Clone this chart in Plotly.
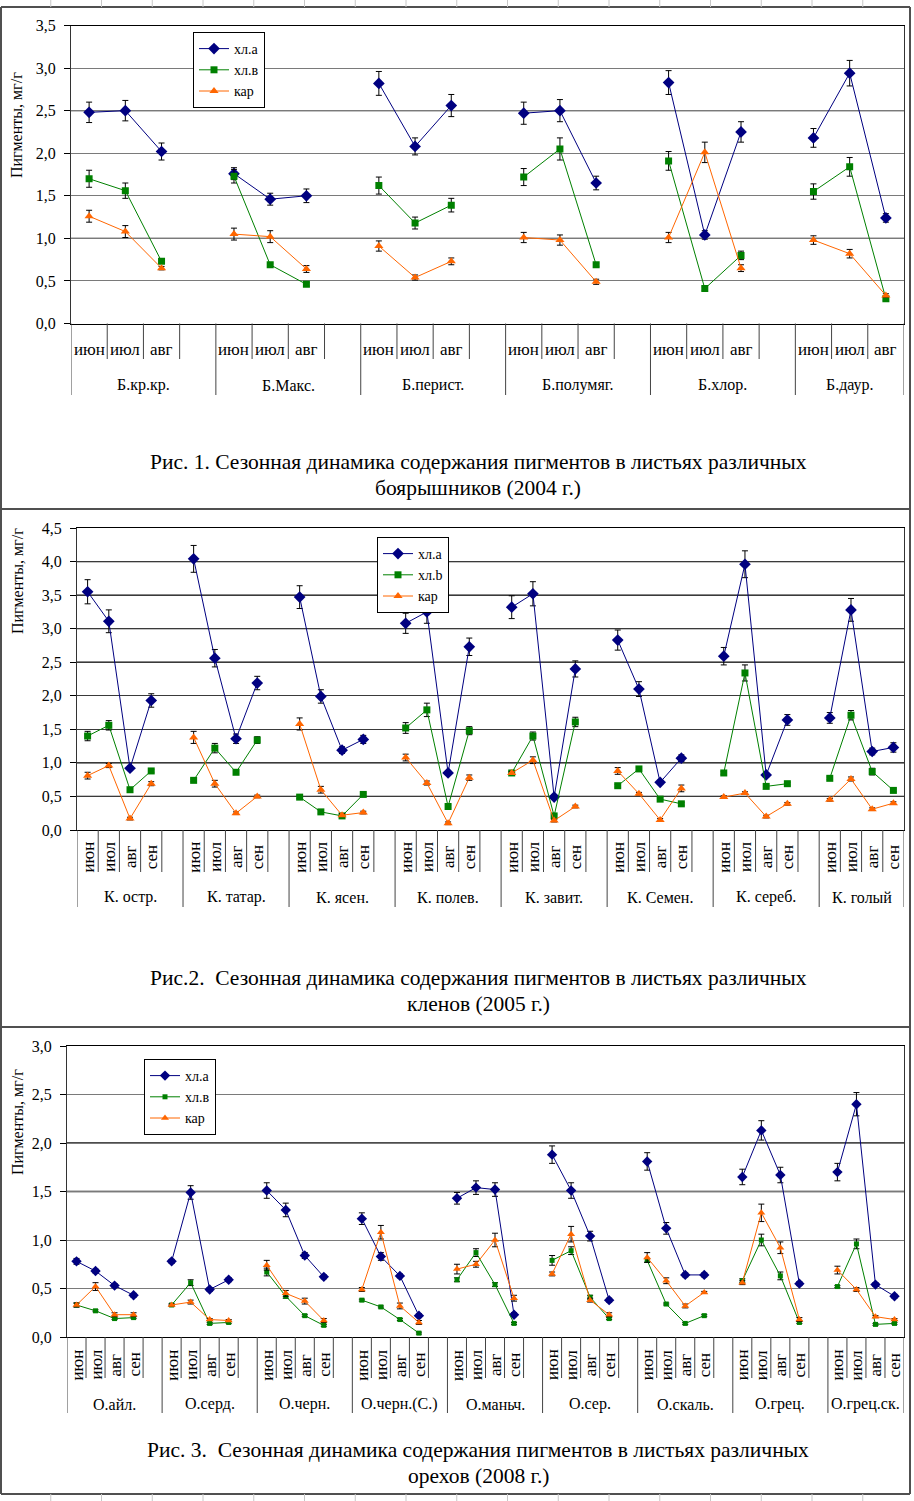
import plotly.graph_objects as go

W, H = 914, 1501
SERIF = "Liberation Serif, Times New Roman, serif"

# ---------------- data ----------------
COLORS = ["#000080", "#008000", "#FF6600"]
SYMBOLS = ["diamond", "square", "triangle-up"]

# Panel 1 — боярышники (2004)
P1_GROUPS = ["Б.кр.кр.", "Б.Макс.", "Б.перист.", "Б.полумяг.", "Б.хлор.", "Б.даур."]
P1_MONTHS = ["июн", "июл", "авг"]
P1_NAMES = ["хл.а", "хл.в", "кар"]
P1_XLA = [[2.48, 2.50, 2.02], [1.76, 1.46, 1.50], [2.82, 2.08, 2.56],
          [2.47, 2.50, 1.65], [2.83, 1.04, 2.25], [2.18, 2.94, 1.24]]
P1_XLA_ERR = [[0.12, 0.12, 0.10], [0.07, 0.07, 0.08], [0.14, 0.10, 0.13],
              [0.13, 0.13, 0.08], [0.14, 0.05, 0.12], [0.11, 0.15, 0.05]]
P1_XLB = [[1.70, 1.56, 0.73], [1.73, 0.69, 0.46], [1.62, 1.18, 1.39],
          [1.72, 2.05, 0.69], [1.91, 0.41, 0.80], [1.55, 1.84, 0.29]]
P1_XLB_ERR = [[0.10, 0.09, 0.02], [0.08, 0.02, 0.02], [0.10, 0.07, 0.08],
              [0.10, 0.13, 0.02], [0.11, 0.02, 0.05], [0.09, 0.11, 0.02]]
P1_CAR = [[1.26, 1.08, 0.65], [1.05, 1.02, 0.64], [0.91, 0.54, 0.73],
          [1.01, 0.98, 0.49], [1.01, 2.01, 0.65], [0.98, 0.82, 0.33]]
P1_CAR_ERR = [[0.07, 0.07, 0.02], [0.07, 0.07, 0.04], [0.06, 0.03, 0.04],
              [0.06, 0.06, 0.03], [0.06, 0.12, 0.04], [0.05, 0.05, 0.02]]

# Panel 2 — клёны (2005)
P2_GROUPS = ["К. остр.", "К. татар.", "К. ясен.", "К. полев.", "К. завит.", "К. Семен.", "К. сереб.", "К. голый"]
P2_MONTHS = ["июн", "июл", "авг", "сен"]
P2_NAMES = ["хл.а", "хл.b", "кар"]
P2_XLA = [[3.55, 3.11, 0.92, 1.93], [4.04, 2.56, 1.36, 2.19], [3.47, 1.99, 1.19, 1.35], [3.08, 3.25, 0.85, 2.73],
          [3.32, 3.52, 0.49, 2.40], [2.83, 2.10, 0.71, 1.07], [2.59, 3.96, 0.82, 1.64], [1.67, 3.28, 1.17, 1.23]]
P2_XLA_ERR = [[0.18, 0.17, 0.03, 0.10], [0.20, 0.13, 0.07, 0.10], [0.17, 0.10, 0.05, 0.06], [0.15, 0.17, 0.03, 0.13],
              [0.17, 0.18, 0.03, 0.12], [0.15, 0.11, 0.03, 0.05], [0.13, 0.20, 0.03, 0.08], [0.08, 0.17, 0.05, 0.07]]
P2_XLB = [[1.40, 1.56, 0.60, 0.88], [0.74, 1.22, 0.86, 1.34], [0.49, 0.27, 0.21, 0.53], [1.52, 1.79, 0.35, 1.48],
          [0.85, 1.40, 0.21, 1.61], [0.66, 0.91, 0.46, 0.39], [0.85, 2.34, 0.65, 0.69], [0.77, 1.71, 0.87, 0.59]]
P2_XLB_ERR = [[0.07, 0.07, 0.02, 0.02], [0.02, 0.07, 0.02, 0.05], [0.02, 0.02, 0.02, 0.02], [0.08, 0.10, 0.02, 0.06],
              [0.02, 0.06, 0.02, 0.07], [0.02, 0.02, 0.02, 0.02], [0.02, 0.12, 0.02, 0.02], [0.02, 0.07, 0.05, 0.02]]
P2_CAR = [[0.81, 0.96, 0.17, 0.69], [1.38, 0.69, 0.25, 0.50], [1.58, 0.60, 0.22, 0.26], [1.08, 0.70, 0.10, 0.78],
          [0.85, 1.04, 0.14, 0.35], [0.88, 0.54, 0.15, 0.62], [0.49, 0.55, 0.20, 0.39], [0.45, 0.76, 0.31, 0.40]]
P2_CAR_ERR = [[0.05, 0.03, 0.02, 0.03], [0.09, 0.05, 0.02, 0.02], [0.09, 0.05, 0.02, 0.02], [0.05, 0.03, 0.02, 0.04],
              [0.02, 0.05, 0.02, 0.02], [0.05, 0.02, 0.02, 0.05], [0.02, 0.02, 0.02, 0.02], [0.02, 0.03, 0.02, 0.02]]

# Panel 3 — орехи (2008)
P3_GROUPS = ["О.айл.", "О.серд.", "О.черн.", "О.черн.(С.)", "О.маньч.", "О.сер.", "О.скаль.", "О.грец.", "О.грец.ск."]
P3_MONTHS = ["июн", "июл", "авг", "сен"]
P3_NAMES = ["хл.а", "хл.в", "кар"]
P3_XLA = [[0.78, 0.68, 0.53, 0.43], [0.78, 1.49, 0.49, 0.59], [1.51, 1.31, 0.84, 0.62], [1.22, 0.83, 0.63, 0.22],
          [1.43, 1.54, 1.52, 0.23], [1.88, 1.51, 1.04, 0.38], [1.81, 1.12, 0.64, 0.64], [1.65, 2.13, 1.67, 0.55],
          [1.70, 2.40, 0.54, 0.42]]
P3_XLA_ERR = [[0.03, 0.02, 0.02, 0.02], [0.02, 0.07, 0.02, 0.02], [0.08, 0.07, 0.03, 0.02], [0.06, 0.04, 0.02, 0.02],
              [0.06, 0.07, 0.07, 0.02], [0.09, 0.08, 0.05, 0.02], [0.09, 0.06, 0.02, 0.02], [0.08, 0.10, 0.08, 0.02],
              [0.09, 0.12, 0.02, 0.02]]
P3_XLB = [[0.33, 0.27, 0.19, 0.20], [0.33, 0.56, 0.14, 0.15], [0.67, 0.42, 0.22, 0.12], [0.38, 0.31, 0.18, 0.04],
          [0.59, 0.87, 0.54, 0.14], [0.79, 0.89, 0.41, 0.19], [0.79, 0.34, 0.14, 0.22], [0.58, 1.00, 0.63, 0.15],
          [0.52, 0.96, 0.13, 0.14]]
P3_XLB_ERR = [[0.02, 0.01, 0.01, 0.01], [0.01, 0.03, 0.01, 0.01], [0.04, 0.02, 0.01, 0.01], [0.01, 0.01, 0.01, 0.01],
              [0.02, 0.04, 0.02, 0.01], [0.05, 0.04, 0.02, 0.01], [0.02, 0.01, 0.01, 0.01], [0.02, 0.06, 0.04, 0.01],
              [0.01, 0.05, 0.01, 0.01]]
P3_CAR = [[0.33, 0.52, 0.23, 0.23], [0.33, 0.36, 0.18, 0.17], [0.74, 0.45, 0.37, 0.17], [0.49, 1.08, 0.32, 0.15],
          [0.70, 0.75, 1.00, 0.40], [0.65, 1.06, 0.38, 0.23], [0.82, 0.58, 0.32, 0.46], [0.56, 1.28, 0.92, 0.18],
          [0.69, 0.49, 0.21, 0.18]]
P3_CAR_ERR = [[0.02, 0.04, 0.02, 0.02], [0.01, 0.02, 0.01, 0.01], [0.05, 0.03, 0.03, 0.02], [0.02, 0.07, 0.03, 0.02],
              [0.05, 0.03, 0.07, 0.03], [0.02, 0.08, 0.02, 0.02], [0.05, 0.03, 0.02, 0.01], [0.02, 0.09, 0.06, 0.02],
              [0.04, 0.02, 0.01, 0.01]]

Y_TITLE = "Пигменты, мг/г"
CAPTIONS = [
    ["Рис. 1. Сезонная динамика содержания пигментов в листьях различных", "боярышников (2004 г.)"],
    ["Рис.2.\u00a0 Сезонная динамика содержания пигментов в листьях различных", "кленов (2005 г.)"],
    ["Рис. 3.\u00a0 Сезонная динамика содержания пигментов в листьях различных", "орехов (2008 г.)"],
]

# ---------------- layout geometry (pixels) ----------------
def px(x):
    return x / W


def py(y):
    return 1 - y / H


PANELS = [
    dict(groups=P1_GROUPS, months=P1_MONTHS, names=P1_NAMES,
         vals=[P1_XLA, P1_XLB, P1_CAR], errs=[P1_XLA_ERR, P1_XLB_ERR, P1_CAR_ERR],
         x0=71, x1=904, ytop=25.5, ybot=323.5, ymax=3.5, rotate=False,
         month_y=350, short_y=359, long_y=395, group_y=385,
         legend=(193, 32), msize=(9, 7, 8), ytitle_y=125, caption_y=(462, 488),
         gridcolor="#7a7a7a", dark_grid=[1.0, 2.5]),
    dict(groups=P2_GROUPS, months=P2_MONTHS, names=P2_NAMES,
         vals=[P2_XLA, P2_XLB, P2_CAR], errs=[P2_XLA_ERR, P2_XLB_ERR, P2_CAR_ERR],
         x0=77, x1=904, ytop=528, ybot=830, ymax=4.5, rotate=True,
         month_y=857, short_y=872, long_y=907, group_y=897,
         legend=(377, 537), msize=(9, 7, 8), ytitle_y=581, caption_y=(978, 1004),
         gridcolor="#3a3a3a", dark_grid=[0.5, 1.0, 2.5, 3.0, 3.5, 4.0]),
    dict(groups=P3_GROUPS, months=P3_MONTHS, names=P3_NAMES,
         vals=[P3_XLA, P3_XLB, P3_CAR], errs=[P3_XLA_ERR, P3_XLB_ERR, P3_CAR_ERR],
         x0=67, x1=904, ytop=1046, ybot=1337, ymax=3.0, rotate=True,
         month_y=1365, short_y=1378, long_y=1413, group_y=1404,
         legend=(144, 1059), msize=(8, 5, 7), ytitle_y=1122, caption_y=(1450, 1476),
         gridcolor="#7a7a7a", dark_grid=[1.5, 2.0]),
]

fig = go.Figure()
annotations = []
shapes = []
layout_axes = {}

for k, P in enumerate(PANELS, start=1):
    sfx = "" if k == 1 else str(k)
    xa, ya = "x" + sfx, "y" + sfx
    legname = "legend" + sfx
    groups, months = P["groups"], P["months"]
    nm = len(months)
    step = nm + 1
    nslots = len(groups) * step - 1

    # emphasised (black) gridlines, drawn beneath the data
    for gv in P["dark_grid"]:
        shapes.append(dict(type="line", xref=xa + " domain", yref=ya, x0=0, x1=1, y0=gv, y1=gv,
                           layer="below", line=dict(color="#111111", width=1.3)))

    # traces
    for s in range(3):
        xs, ys, es = [], [], []
        for g in range(len(groups)):
            for m in range(nm):
                xs.append(g * step + m)
                ys.append(P["vals"][s][g][m])
                es.append(P["errs"][s][g][m])
            xs.append(None); ys.append(None); es.append(0)
        fig.add_trace(go.Scatter(
            x=xs, y=ys, mode="lines+markers", name=P["names"][s],
            xaxis=xa, yaxis=ya, legend=legname, connectgaps=False,
            line=dict(color=COLORS[s], width=1),
            marker=dict(symbol=SYMBOLS[s], size=P["msize"][s], color=COLORS[s],
                        line=dict(width=0)),
            error_y=dict(type="data", array=es, color="black", thickness=1, width=3),
        ))

    layout_axes["xaxis" + sfx] = dict(
        domain=[px(P["x0"]), px(P["x1"])], range=[-0.5, nslots - 0.5],
        anchor=ya, showgrid=False, zeroline=False, showticklabels=False, automargin=False,
        showline=True, linecolor="black", linewidth=1, mirror=True, ticks="",
    )
    layout_axes["yaxis" + sfx] = dict(
        domain=[py(P["ybot"]), py(P["ytop"])], range=[0, P["ymax"]], dtick=0.5,
        tickformat=".1f", anchor=xa, showgrid=True, gridcolor=P["gridcolor"], gridwidth=1,
        zeroline=False, showline=True, linecolor="#333333", linewidth=1, mirror=True,
        ticks="outside", ticklen=6, tickcolor="black", ticklabelstandoff=5, automargin=False,
        tickfont=dict(family=SERIF, size=16, color="black"),
    )

    # legend
    lx, ly = P["legend"]
    fig.update_layout(**{legname: dict(
        x=px(lx), y=py(ly), xanchor="left", yanchor="top", bgcolor="white",
        bordercolor="black", borderwidth=1, tracegroupgap=0,
        font=dict(family=SERIF, size=14, color="black"),
    )})

    # category axis: month labels, group labels, divider lines
    ybot_p = py(P["ybot"])
    for g, gname in enumerate(groups):
        gstart = g * step - 0.5
        last = g == len(groups) - 1
        gend = gstart + (nm if last else step)
        shapes.append(dict(type="line", xref=xa, yref="paper", x0=gstart, x1=gstart,
                           y0=ybot_p, y1=py(P["long_y"]), line=dict(color="#444444", width=1)))
        nshort = nm - 1 if last else nm
        for j in range(1, nshort + 1):
            shapes.append(dict(type="line", xref=xa, yref="paper", x0=gstart + j, x1=gstart + j,
                               y0=ybot_p, y1=py(P["short_y"]), line=dict(color="#444444", width=1)))
        if last:
            shapes.append(dict(type="line", xref=xa, yref="paper", x0=gend, x1=gend,
                               y0=ybot_p, y1=py(P["long_y"]), line=dict(color="#444444", width=1)))
        for m, mname in enumerate(months):
            annotations.append(dict(
                x=g * step + m, y=py(P["month_y"]), xref=xa, yref="paper", text=mname,
                showarrow=False, textangle=-90 if P["rotate"] else 0,
                font=dict(family=SERIF, size=17, color="black"),
                xanchor="center", yanchor="middle"))
        annotations.append(dict(
            x=(gstart + gend) / 2, y=py(P["group_y"]), xref=xa, yref="paper", text=gname,
            showarrow=False, font=dict(family=SERIF, size=16, color="black"),
            xanchor="center", yanchor="middle"))

    # y title
    annotations.append(dict(x=px(17), y=py(P["ytitle_y"]), xref="paper", yref="paper",
                            text=Y_TITLE, textangle=-90, showarrow=False,
                            font=dict(family=SERIF, size=16, color="black"),
                            xanchor="center", yanchor="middle"))
    # caption
    for line_text, cy in zip(CAPTIONS[k - 1], P["caption_y"]):
        annotations.append(dict(x=px(478), y=py(cy), xref="paper", yref="paper",
                                text=line_text, showarrow=False,
                                font=dict(family=SERIF, size=21.5, color="black"),
                                xanchor="center", yanchor="middle"))

# page frame (document borders)
FRAME = "#505050"
for yline in (7, 509, 1027, 1494):
    shapes.append(dict(type="line", xref="paper", yref="paper", x0=px(1), x1=px(910),
                       y0=py(yline), y1=py(yline), line=dict(color=FRAME, width=2)))
for xline in (1, 910):
    shapes.append(dict(type="line", xref="paper", yref="paper", x0=px(xline), x1=px(xline),
                       y0=py(7), y1=py(1494), line=dict(color=FRAME, width=2)))
# faint spreadsheet cell grid outside the frame
for i in range(1, 18):
    xg = i * 50.75
    for (ya0, ya1) in ((0, 7), (1494, 1501)):
        shapes.append(dict(type="line", xref="paper", yref="paper", x0=px(xg), x1=px(xg),
                           y0=py(ya0), y1=py(ya1), line=dict(color="#c8c8c8", width=1)))

fig.update_layout(
    width=W, height=H, margin=dict(l=0, r=0, t=0, b=0, pad=0, autoexpand=False),
    paper_bgcolor="white", plot_bgcolor="white",
    separators=", ", showlegend=True,
    annotations=annotations, shapes=shapes,
    font=dict(family=SERIF, color="black"),
    **layout_axes,
)

fig.write_html(
    "out.html",
    config={"displayModeBar": False, "staticPlot": True},
    post_script=(
        "document.documentElement.style.margin='0';"
        "document.body.style.margin='0';document.body.style.padding='0';"
        "var d=document.getElementById('{plot_id}');"
        "d.style.position='fixed';d.style.top='0px';d.style.left='0px';"
    ),
)
